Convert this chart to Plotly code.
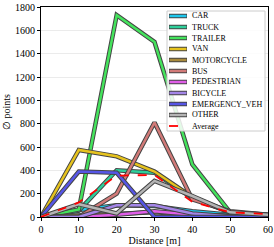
import plotly.graph_objects as go

distance = [0, 10, 20, 30, 40, 50, 60]
car = [0, 60, 100, 95, 50, 20, 10]
truck = [0, 55, 400, 380, 160, 40, 15]
trailer = [0, 65, 1730, 1500, 450, 40, 20]
van = [0, 575, 520, 390, 170, 40, 15]
motorcycle = [0, 15, 30, 40, 20, 10, 5]
bus = [0, 0, 200, 810, 150, 50, 20]
pedestrian = [0, 0, 20, 50, 20, 5, 0]
bicycle = [0, 0, 100, 100, 30, 5, 0]
emergency = [0, 390, 380, 0, 0, 0, 0]
other = [0, 110, 30, 310, 180, 40, 20]
average = [0, 125, 355, 360, 130, 40, 25]

series = [
    ("CAR", car, "#1ec8ee"),
    ("TRUCK", truck, "#2ecf9a"),
    ("TRAILER", trailer, "#44e35c"),
    ("VAN", van, "#e6c31e"),
    ("MOTORCYCLE", motorcycle, "#a88a3c"),
    ("BUS", bus, "#d27a78"),
    ("PEDESTRIAN", pedestrian, "#e05ee8"),
    ("BICYCLE", bicycle, "#a486e8"),
    ("EMERGENCY_VEH", emergency, "#5656e6"),
    ("OTHER", other, "#b4b4b4"),
]

font = "Liberation Serif"
W, H = 274, 247
L, R, T, B = 41, 6, 7, 30
pw, ph = W - L - R, H - T - B


def px(x):
    return (x - L) / pw


def py(y):
    return (H - B - y) / ph


fig = go.Figure()
for name, vals, col in series:
    fig.add_trace(go.Scatter(x=distance, y=vals, mode="lines", line=dict(color="#444444", width=4.5),
                             showlegend=False, hoverinfo="skip"))
    fig.add_trace(go.Scatter(x=distance, y=vals, mode="lines", name=name, showlegend=False,
                             line=dict(color=col, width=2.5)))
fig.add_trace(go.Scatter(x=distance, y=average, mode="lines", name="Average", showlegend=False,
                         line=dict(color="#ff0000", width=1.8, dash="dash")))

# manual legend (compact, like the reference)
shapes = [dict(type="rect", xref="paper", yref="paper", x0=px(167), x1=px(265), y0=py(131), y1=py(11),
               fillcolor="rgba(255,255,255,0.85)", line=dict(color="#cccccc", width=1), layer="above")]
annotations = []
entries = [(n, c) for n, _, c in series] + [("Average", "#ff0000")]
for i, (name, col) in enumerate(entries):
    yy = py(16 + i * 11)
    if name == "Average":
        shapes.append(dict(type="line", xref="paper", yref="paper", x0=px(169), x1=px(187), y0=yy, y1=yy,
                           line=dict(color=col, width=1.8, dash="dash"), layer="above"))
    else:
        shapes.append(dict(type="line", xref="paper", yref="paper", x0=px(169), x1=px(187), y0=yy, y1=yy,
                           line=dict(color="#444444", width=4.5), layer="above"))
        shapes.append(dict(type="line", xref="paper", yref="paper", x0=px(169.5), x1=px(186.5), y0=yy, y1=yy,
                           line=dict(color=col, width=2.5), layer="above"))
    annotations.append(dict(text=name, xref="paper", yref="paper", x=px(190), y=yy, xanchor="left",
                            yanchor="middle", showarrow=False, font=dict(family=font, size=8, color="black")))

fig.update_layout(
    width=W, height=H,
    margin=dict(l=L, r=R, t=T, b=B, autoexpand=False),
    paper_bgcolor="white", plot_bgcolor="white",
    showlegend=False,
    font=dict(family=font, size=10, color="black"),
    shapes=shapes, annotations=annotations,
    xaxis=dict(range=[0, 60], tickvals=[0, 10, 20, 30, 40, 50, 60], showgrid=False,
               showline=True, linecolor="black", linewidth=1, mirror=True,
               ticks="outside", ticklen=3, tickcolor="black",
               title=dict(text="Distance [m]", font=dict(family=font, size=10), standoff=2),
               tickfont=dict(family=font, size=10)),
    yaxis=dict(range=[0, 1800], tickvals=[0, 200, 400, 600, 800, 1000, 1200, 1400, 1600, 1800],
               showgrid=True, gridcolor="#ebebeb", gridwidth=1, zeroline=False,
               showline=True, linecolor="black", linewidth=1, mirror=True,
               ticks="outside", ticklen=3, tickcolor="black",
               title=dict(text="∅ points", font=dict(family=font, size=10), standoff=2),
               tickfont=dict(family=font, size=10)),
)
fig.write_html("out.html", config={"displayModeBar": False},
               post_script="document.body.style.margin='0';document.body.style.overflow='hidden';")
